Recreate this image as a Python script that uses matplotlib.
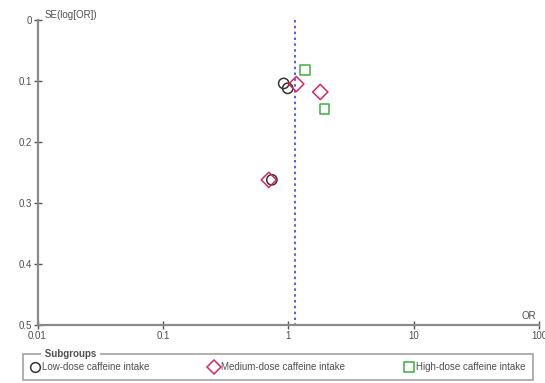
import matplotlib.pyplot as plt
from matplotlib.lines import Line2D

plt.rcParams["font.family"] = ["Liberation Sans", "DejaVu Sans"]

# funnel plot data (OR, SE of log OR) per subgroup
low_or = [0.92, 0.99, 0.74]
low_se = [0.104, 0.112, 0.262]
med_or = [1.16, 1.80, 0.70]
med_se = [0.105, 0.118, 0.262]
high_or = [1.36, 1.94]
high_se = [0.082, 0.146]

pooled_or = 1.13
x_ticks = [0.01, 0.1, 1, 10, 100]
x_labels = ["0.01", "0.1", "1", "10", "100"]
y_ticks = [0, 0.1, 0.2, 0.3, 0.4, 0.5]
y_labels = ["0", "0.1", "0.2", "0.3", "0.4", "0.5"]
group_names = ["Low-dose caffeine intake", "Medium-dose caffeine intake",
               "High-dose caffeine intake"]

W, H = 545, 383
fig = plt.figure(figsize=(W / 100, H / 100), dpi=100)
ax = fig.add_axes([37.5 / W, 1 - 325 / H, (539 - 37.5) / W, (325 - 20) / H])

grey = "#8a8a8a"
txt = "#505050"

ax.plot([pooled_or, pooled_or], [0, 0.5], color="#3a3aff", lw=1.2,
        linestyle=(0, (1.5, 2.0)), zorder=1)

ax.scatter(low_or, low_se, s=55, facecolors="none", edgecolors="#333333",
           linewidths=1.1, marker="o", zorder=3)
ax.scatter(med_or, med_se, s=60, facecolors="none", edgecolors="#d6285a",
           linewidths=1.1, marker="D", zorder=3)
ax.scatter(high_or, high_se, s=45, facecolors="none", edgecolors="#3fae3f",
           linewidths=1.1, marker="s", zorder=3)

ax.set_xscale("log")
ax.set_xlim(0.01, 100)
ax.set_ylim(0.5, 0)
ax.set_xticks(x_ticks)
ax.set_xticklabels(x_labels)
ax.minorticks_off()
ax.set_yticks(y_ticks)
ax.set_yticklabels(y_labels)

for s in ["top", "right"]:
    ax.spines[s].set_visible(False)
for s in ["left", "bottom"]:
    ax.spines[s].set_color(grey)
    ax.spines[s].set_linewidth(1.6)
ax.tick_params(direction="inout", length=6, width=1, color="#555555",
               labelsize=7, labelcolor=txt, pad=1)

ax.text(0.015, 1.0, "SE(log[OR])", transform=ax.transAxes, fontsize=7,
        color=txt, va="bottom", ha="left")
ax.text(0.995, 0.012, "OR", transform=ax.transAxes, fontsize=7,
        color=txt, va="bottom", ha="right")

# legend box
handles = [
    Line2D([], [], marker="o", ls="none", mfc="none", mec="#333333", ms=7, mew=1.1),
    Line2D([], [], marker="D", ls="none", mfc="none", mec="#d6285a", ms=7, mew=1.1),
    Line2D([], [], marker="s", ls="none", mfc="none", mec="#3fae3f", ms=7, mew=1.1),
]
leg = fig.legend(handles, group_names, loc="lower left", ncol=3,
                 bbox_to_anchor=(22.7 / W, 3 / H, (533 - 22.7) / W, 24 / H),
                 mode="expand", borderaxespad=0, fontsize=7, frameon=True,
                 fancybox=False, edgecolor=grey, handletextpad=0.2,
                 handlelength=1.0, borderpad=0.8, columnspacing=1.0)
leg.get_frame().set_linewidth(1.2)
for t in leg.get_texts():
    t.set_color(txt)

fig.canvas.draw()
bb = leg.get_frame().get_window_extent()
fig.text(42 / W, bb.y1 / H, " Subgroups ", fontsize=7, fontweight="bold",
         color=txt, va="center", ha="left", zorder=10,
         bbox=dict(facecolor="white", edgecolor="none", pad=0.5))

fig.savefig("out.png", dpi=100)
